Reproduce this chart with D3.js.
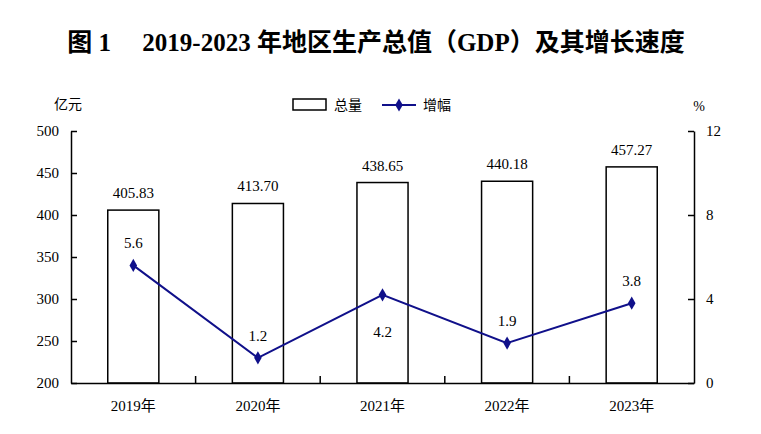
<!DOCTYPE html>
<html><head><meta charset="utf-8">
<script src="https://cdn.jsdelivr.net/npm/d3@7"></script>
<style>body{margin:0;background:#fff}svg{display:block}</style>
</head><body>
<script>
const years = ["2019年","2020年","2021年","2022年","2023年"];
const gdp = [405.83, 413.70, 438.65, 440.18, 457.27];
const growth = [5.6, 1.2, 4.2, 1.9, 3.8];
const leftTicks = [200,250,300,350,400,450,500];
const rightTicks = [0,4,8,12];
const labelBelow = [false,false,true,false,false];

const W=761,H=434;
const svg=d3.select("body").append("svg").attr("width",W).attr("height",H);
const serif="'Liberation Serif','Times New Roman','Noto Sans CJK SC',serif";
const m={l:71,r:694,t:131,b:383};
const navy="#10108a";

svg.append("text").attr("x",376).attr("y",51).attr("text-anchor","middle")
  .attr("font-family",serif).attr("font-weight","bold").attr("font-size",25)
  .text("图 1\u3000 2019-2023 年地区生产总值（GDP）及其增长速度");

const x=d3.scaleBand().domain(years).range([m.l,m.r]).paddingInner(0).paddingOuter(0);
const yL=d3.scaleLinear().domain([200,500]).range([m.b,m.t]);
const yR=d3.scaleLinear().domain([0,12]).range([m.b,m.t]);
const bw=x.bandwidth()*0.41;

// bars
svg.selectAll("rect.bar").data(gdp).enter().append("rect")
  .attr("x",(d,i)=>x(years[i])+x.bandwidth()/2-bw/2).attr("y",d=>yL(d))
  .attr("width",bw).attr("height",d=>m.b-yL(d))
  .attr("fill","#fff").attr("stroke","#000").attr("stroke-width",1.5);
svg.selectAll("text.bl").data(gdp).enter().append("text")
  .attr("x",(d,i)=>x(years[i])+x.bandwidth()/2).attr("y",d=>yL(d)-12)
  .attr("text-anchor","middle").attr("font-family",serif).attr("font-size",15)
  .text(d=>d.toFixed(2));

// axes
const axL=svg.append("g").attr("transform",`translate(${m.l},0)`)
  .call(d3.axisLeft(yL).tickValues(leftTicks).tickSizeInner(-6).tickSizeOuter(0).tickPadding(12));
const axR=svg.append("g").attr("transform",`translate(${m.r},0)`)
  .call(d3.axisRight(yR).tickValues(rightTicks).tickSizeInner(-6).tickSizeOuter(0).tickPadding(12));
const axB=svg.append("g").attr("transform",`translate(0,${m.b})`)
  .call(d3.axisBottom(x).tickSize(0).tickPadding(17));
[axL,axR,axB].forEach(g=>{
  g.selectAll("path,line").attr("stroke","#000").attr("stroke-width",1.5);
  g.selectAll("text").attr("font-family",serif).attr("font-size",15).attr("fill","#000");
});
// category boundary ticks
const bounds=years.slice(1).map(c=>x(c));
svg.selectAll("line.bt").data(bounds).enter().append("line")
  .attr("x1",d=>d).attr("x2",d=>d).attr("y1",m.b).attr("y2",m.b-7)
  .attr("stroke","#000").attr("stroke-width",1.5);

svg.append("text").attr("x",68).attr("y",109).attr("text-anchor","middle")
  .attr("font-family",serif).attr("font-size",14).text("亿元");
svg.append("text").attr("x",699).attr("y",111).attr("text-anchor","middle")
  .attr("font-family",serif).attr("font-size",14).text("%");

// line
const cx=(i)=>x(years[i])+x.bandwidth()/2;
const line=d3.line().x((d,i)=>cx(i)).y(d=>yR(d));
svg.append("path").datum(growth).attr("d",line).attr("fill","none")
  .attr("stroke",navy).attr("stroke-width",2);
const dia=d3.symbol().type(d3.symbolDiamond).size(50);
svg.selectAll("path.mk").data(growth).enter().append("path")
  .attr("d",dia).attr("transform",(d,i)=>`translate(${cx(i)},${yR(d)})`).attr("fill",navy);
svg.selectAll("text.gl").data(growth).enter().append("text")
  .attr("x",(d,i)=>cx(i)).attr("y",(d,i)=>labelBelow[i]?yR(d)+42:yR(d)-17)
  .attr("text-anchor","middle").attr("font-family",serif).attr("font-size",15)
  .text(d=>d.toFixed(1));

// legend
const lg=svg.append("g");
lg.append("rect").attr("x",293).attr("y",99).attr("width",33).attr("height",11)
  .attr("fill","#fff").attr("stroke","#000").attr("stroke-width",1.5);
lg.append("text").attr("x",334).attr("y",110).attr("font-family",serif).attr("font-size",14).text("总量");
lg.append("line").attr("x1",382).attr("x2",416).attr("y1",105).attr("y2",105).attr("stroke",navy).attr("stroke-width",2);
lg.append("path").attr("d",dia).attr("transform","translate(399,105)").attr("fill",navy);
lg.append("text").attr("x",423).attr("y",110).attr("font-family",serif).attr("font-size",14).text("增幅");
</script>
</body></html>
